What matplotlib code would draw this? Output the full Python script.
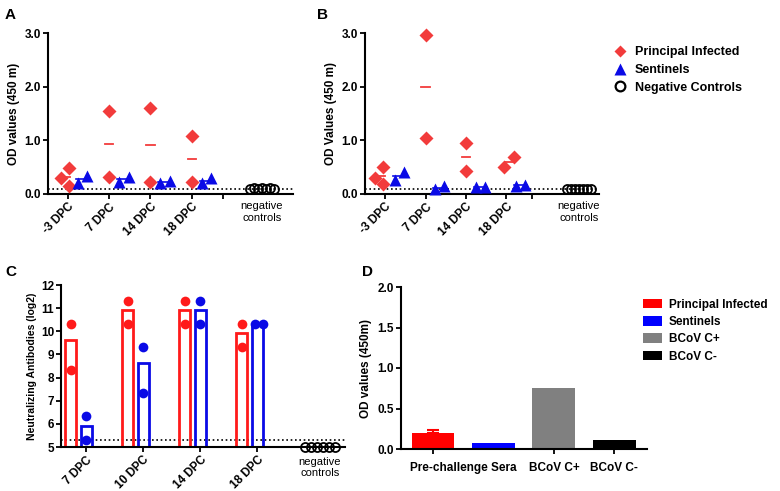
import numpy as np
import matplotlib
matplotlib.use("Agg")
import matplotlib.pyplot as plt
from matplotlib.patches import Patch
from matplotlib.lines import Line2D

plt.rcParams['font.family'] = ['Liberation Sans', 'DejaVu Sans']
plt.rcParams['font.weight'] = 'bold'

# ---------- data ----------
dpc_ab = ["-3 DPC", "7 DPC", "14 DPC", "18 DPC"]

# panel A: OD values
a_principal = [[0.30, 0.48, 0.15], [1.54, 0.32], [1.61, 0.22], [1.08, 0.23]]
a_sentinel = [[0.21, 0.34], [0.23, 0.32], [0.20, 0.24], [0.21, 0.29]]
a_negative = [0.10, 0.11, 0.10, 0.12, 0.10, 0.11, 0.10]

# panel B: OD values
b_principal = [[0.30, 0.51, 0.19], [2.96, 1.04], [0.95, 0.43], [0.50, 0.69]]
b_sentinel = [[0.26, 0.41], [0.09, 0.15], [0.13, 0.13], [0.15, 0.17]]
b_negative = [0.09, 0.10, 0.09, 0.10, 0.09, 0.10, 0.09]

cutoff_ab = 0.1

# panel C: neutralizing titers
dpc_c = ["7 DPC", "10 DPC", "14 DPC", "18 DPC"]
c_principal = [[1280, 320], [2560, 1280], [2560, 1280], [1280, 640]]
c_sentinel = [[80, 40], [640, 160], [2560, 1280], [1280, 1280]]
c_negative = [32, 32, 32, 32, 32, 32]
c_limit = 40

# panel D
d_labels = ["Principal Infected", "Sentinels", "BCoV C+", "BCoV C-"]
d_values = [0.20, 0.08, 0.75, 0.115]
d_err_up = [0.04, 0, 0, 0]
d_colors = ["#ff0000", "#0000ff", "#808080", "#000000"]
d_ticklabels = ["Pre-challenge Sera", "BCoV C+", "BCoV C-"]

RED_PT = "#f23b3b"
BLUE = "#0a0ae6"
RED = "#ff1a1a"

fig = plt.figure(figsize=(7.8, 4.91), dpi=100)
W, H = 780, 491


def add_ax(l, r, t, b):
    return fig.add_axes([l / W, 1 - b / H, (r - l) / W, (b - t) / H])


def style(ax):
    for s in ["top", "right"]:
        ax.spines[s].set_visible(False)
    for s in ["left", "bottom"]:
        ax.spines[s].set_linewidth(1.5)
    ax.tick_params(width=1.3, length=3.5, labelsize=8.5, pad=1.5)
    for lab in ax.get_yticklabels():
        lab.set_fontweight('bold')


def scatter_panel(ax, principal, sentinel, negative, red_off, neg_x, sep_x, ylabel, xlim):
    for i, grp in enumerate(principal):
        xs = [i + o for o in red_off[i]]
        ax.plot(xs, grp, 'D', color=RED_PT, ms=6.8, mec='none', zorder=3, clip_on=False)
        m = np.mean(grp)
        ax.plot([np.mean(xs) - 0.1, np.mean(xs) + 0.1], [m, m], color=RED_PT, lw=1.3, zorder=2)
    for i, grp in enumerate(sentinel):
        xs = [i + 0.24, i + 0.47]
        ax.plot(xs, grp, '^', color=BLUE, ms=8, mec='none', zorder=3, clip_on=False)
        m = np.mean(grp)
        ax.plot([xs[0] - 0.05, xs[1] + 0.05], [m, m], color=BLUE, lw=1.2, zorder=2)
    nx = neg_x + np.linspace(-0.3, 0.3, len(negative))
    ax.plot(nx, negative, 'o', mfc='none', mec='black', ms=6.5, mew=1.3, zorder=3)
    ax.axhline(cutoff_ab, color='black', ls=(0, (1, 1.6)), lw=1.2, zorder=1)
    ax.set_ylim(0, 3.0)
    ax.set_yticks([0, 1, 2, 3])
    ax.set_yticklabels(["0.0", "1.0", "2.0", "3.0"])
    ax.set_xlim(*xlim)
    ax.set_xticks(list(range(len(dpc_ab))) + [sep_x])
    ax.set_xticklabels(dpc_ab + [""], rotation=45, ha='right', rotation_mode='anchor',
                       fontsize=8.5, fontweight='bold')
    ax.set_xticks([neg_x], minor=True)
    ax.set_xticklabels(["negative\ncontrols"], minor=True, fontsize=8, fontweight='normal')
    ax.tick_params(axis='x', which='minor', length=0, pad=5)
    ax.set_ylabel(ylabel, fontsize=8.5, fontweight='bold', labelpad=3)
    style(ax)


# ---------- panel A ----------
axA = add_ax(48, 293, 33, 194)
scatter_panel(axA, a_principal, a_sentinel, a_negative,
              [[-0.17, 0.02, 0.02], [0, 0], [0, 0], [0, 0]],
              4.7, 3.75, "OD values (450 m)", (-0.48, 5.45))

# ---------- panel B ----------
axB = add_ax(365, 599, 33, 194)
scatter_panel(axB, b_principal, b_sentinel, b_negative,
              [[-0.25, -0.05, -0.05], [0, 0], [0, 0], [-0.05, 0.2]],
              4.8, 3.65, "OD Values (450 m)", (-0.5, 5.3))

# legend A/B
handles_ab = [
    Line2D([], [], marker='D', color=RED_PT, ls='none', ms=6.5, mec='none'),
    Line2D([], [], marker='^', color=BLUE, ls='none', ms=8, mec='none'),
    Line2D([], [], marker='o', mfc='none', mec='black', ls='none', ms=7, mew=1.6),
]
fig.legend(handles_ab, ["Principal Infected", "Sentinels", "Negative Controls"],
           loc='upper left', bbox_to_anchor=(601 / W, 1 - 35 / H), frameon=False,
           prop={'size': 9, 'weight': 'bold'}, handletextpad=0.6, labelspacing=0.45,
           handlelength=1.2)

# ---------- panel C ----------
axC = add_ax(61, 345, 285, 447)
bw = 0.19
for i in range(len(dpc_c)):
    for vals, off, col in [(c_principal[i], -0.27, RED), (c_sentinel[i], 0.0, BLUE)]:
        lv = np.log2(vals)
        top = np.log2(np.mean(vals))
        axC.bar(i + off, top - 5, bottom=5, width=bw, fill=False, edgecolor=col, lw=2, zorder=2)
        if np.allclose(lv, lv[0]):
            xs = [i + off - 0.04, i + off + 0.11]
        else:
            xs = [i + off] * len(lv)
        axC.plot(xs, lv, 'o', color=col, ms=7, mec='none', zorder=3, clip_on=False)
cx = 4.1 + np.linspace(-0.27, 0.27, len(c_negative))
axC.plot(cx, np.log2(c_negative), 'o', mfc='none', mec='black', ms=6.5, mew=1.3,
         clip_on=False, zorder=3)
axC.axhline(np.log2(c_limit), color='black', ls=(0, (1, 1.6)), lw=1.2, zorder=1)
axC.set_ylim(5, 12)
axC.set_yticks(range(5, 13))
axC.set_xlim(-0.44, 4.54)
axC.set_xticks(range(len(dpc_c)))
axC.set_xticklabels(dpc_c, rotation=45, ha='right', rotation_mode='anchor',
                    fontsize=8.5, fontweight='bold')
axC.set_xticks([4.1], minor=True)
axC.set_xticklabels(["negative\ncontrols"], minor=True, fontsize=8, fontweight='normal')
axC.tick_params(axis='x', which='minor', length=0, pad=7)
axC.set_ylabel("Neutralizing Antibodies (log2)", fontsize=7.5, fontweight='bold', labelpad=3)
style(axC)

# ---------- panel D ----------
axD = add_ax(401, 647, 287, 449)
xd = np.arange(len(d_values))
axD.bar(xd, d_values, width=0.71, color=d_colors, zorder=2)
axD.errorbar(xd[:1], d_values[:1], yerr=[[0], d_err_up[:1]], fmt='none',
             ecolor=d_colors[0], capsize=4, elinewidth=1.5, capthick=1.5)
axD.set_ylim(0, 2.0)
axD.set_yticks([0, 0.5, 1.0, 1.5, 2.0])
axD.set_yticklabels(["0.0", "0.5", "1.0", "1.5", "2.0"])
axD.set_xlim(-0.53, 3.54)
axD.set_xticks([0, 2, 3])
axD.set_xticklabels(["", d_ticklabels[1], d_ticklabels[2]], fontsize=8.5, fontweight='bold')
axD.set_xticks([0.5], minor=True)
axD.set_xticklabels(d_ticklabels[:1], minor=True, fontsize=8.5, fontweight='bold')
style(axD)
axD.tick_params(axis='x', which='both', pad=6)
axD.tick_params(axis='x', which='minor', length=0, pad=9.5)
axD.set_ylabel("OD values (450m)", fontsize=8.5, fontweight='bold', labelpad=4)

handles_d = [Patch(facecolor=c) for c in d_colors]
fig.legend(handles_d, d_labels, loc='upper left', bbox_to_anchor=(632 / W, 1 - 288 / H),
           frameon=False, prop={'size': 8.5, 'weight': 'bold'}, handletextpad=0.6,
           labelspacing=0.45, handlelength=1.6, handleheight=0.9)

# panel letters
for letter, x, y in [("A", 5, 19), ("B", 317, 19), ("C", 5, 276), ("D", 362, 276)]:
    fig.text(x / W, 1 - y / H, letter, fontsize=11, fontweight='bold')

fig.savefig("out.png", dpi=100)
